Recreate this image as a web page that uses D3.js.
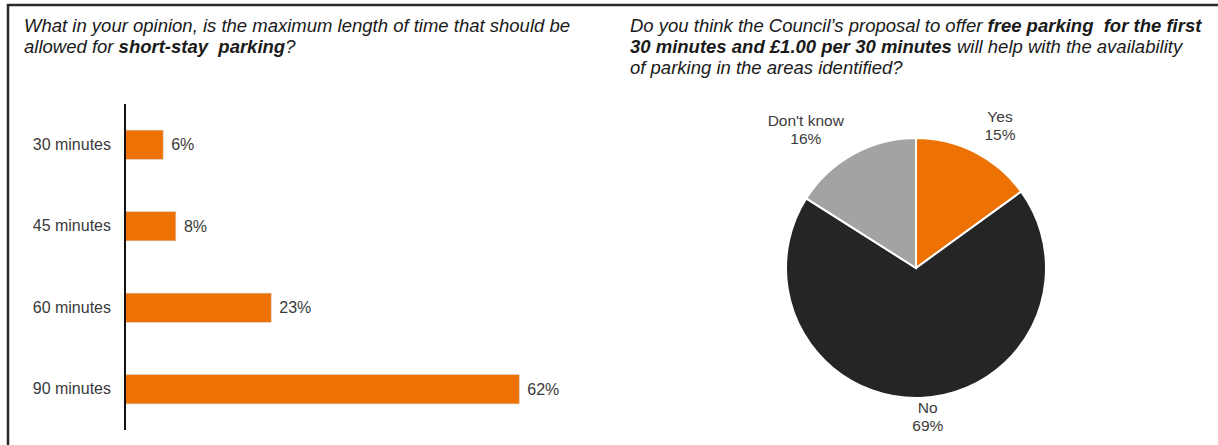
<!DOCTYPE html>
<html>
<head>
<meta charset="utf-8">
<script src="https://cdn.jsdelivr.net/npm/d3@7"></script>
<style>
  html, body { margin: 0; padding: 0; background: #fff; }
  svg { display: block; font-family: "Liberation Sans", Arial, sans-serif; }
</style>
</head>
<body>
<svg id="chart" width="1218" height="445"></svg>
<script>
// Short-stay parking: preferred maximum length of stay
const durations = ["30 minutes", "45 minutes", "60 minutes", "90 minutes"];
const durationShares = [6, 8, 23, 62];

// Free first 30 minutes proposal: responses
const answers = ["Yes", "No", "Don't know"];
const answerShares = [15, 69, 16];
const answerColors = ["#ee7203", "#252525", "#a3a3a3"];

// Question titles, split into runs of normal / bold text per line
const leftTitle = [
  [["What in your opinion, is the maximum length of time that should be", false]],
  [["allowed for ", false], ["short-stay  parking", true], ["?", false]]
];
const rightTitle = [
  [["Do you think the Council\u2019s proposal to offer ", false], ["free parking  for the first", true]],
  [["30 minutes and \u00a31.00 per 30 minutes", true], [" will help with the availability", false]],
  [["of parking in the areas identified?", false]]
];

const svg = d3.select("#chart");

// Panel frame: heavy rule along the top and down the left side
svg.append("line").attr("x1", 7).attr("x2", 1218).attr("y1", 5).attr("y2", 5)
  .attr("stroke", "#2a2a2a").attr("stroke-width", 2.5);
svg.append("line").attr("x1", 8).attr("x2", 8).attr("y1", 4).attr("y2", 445)
  .attr("stroke", "#2a2a2a").attr("stroke-width", 2.5);

function drawTitle(lines, x, y0, lh) {
  const t = svg.append("text").attr("x", x).attr("y", y0)
    .attr("font-size", 18.5).attr("font-style", "italic").attr("fill", "#1a1a1a")
    .attr("xml:space", "preserve");
  lines.forEach((runs, i) => {
    runs.forEach((r, j) => {
      const ts = t.append("tspan").text(r[0])
        .attr("font-weight", r[1] ? "bold" : "normal");
      if (j === 0) ts.attr("x", x).attr("y", y0 + i * lh);
    });
  });
}
drawTitle(leftTitle, 24, 32, 21);
drawTitle(rightTitle, 630, 32, 21);

// ---- Bar chart ----
const x0 = 125;
const xScale = d3.scaleLinear().domain([0, 100]).range([x0, x0 + 636]);
const yScale = d3.scaleBand().domain(durations).range([104, 430]).paddingInner(0.64).paddingOuter(0.32);

const bars = svg.append("g");
bars.selectAll("rect").data(durations).join("rect")
  .attr("x", x0)
  .attr("y", d => yScale(d))
  .attr("width", (d, i) => xScale(durationShares[i]) - x0)
  .attr("height", yScale.bandwidth())
  .attr("fill", "#ee7203")
  .attr("stroke", "#d9d9d9").attr("stroke-width", 0.6);

bars.selectAll("text.val").data(durations).join("text")
  .attr("class", "val")
  .attr("x", (d, i) => xScale(durationShares[i]) + 8)
  .attr("y", d => yScale(d) + yScale.bandwidth() / 2)
  .attr("dy", "0.35em")
  .attr("font-size", 16).attr("fill", "#3a3a3a")
  .text((d, i) => durationShares[i] + "%");

const yAxis = d3.axisLeft(yScale).tickSize(0).tickPadding(14);
const ax = svg.append("g").attr("transform", `translate(${x0},0)`).call(yAxis);
ax.select(".domain").remove();
ax.selectAll("text").attr("font-size", 16).attr("fill", "#3a3a3a")
  .attr("font-family", "Liberation Sans, Arial, sans-serif");
svg.append("line").attr("x1", x0).attr("x2", x0).attr("y1", 104).attr("y2", 430)
  .attr("stroke", "#111").attr("stroke-width", 2);

// ---- Pie chart ----
const cx = 916, cy = 268, r = 130;
const pie = d3.pie().sort(null).value(d => d)(answerShares);
const arc = d3.arc().innerRadius(0).outerRadius(r);
const pg = svg.append("g").attr("transform", `translate(${cx},${cy})`);
pg.selectAll("path").data(pie).join("path")
  .attr("d", arc)
  .attr("fill", (d, i) => answerColors[i])
  .attr("stroke", "#fff").attr("stroke-width", 2);

// Slice labels placed outside the rim
const labelArc = d3.arc().innerRadius(r + 22).outerRadius(r + 22);
const labelOffsets = [[15, -7], [7, -3], [-37, -5]];
pg.selectAll("text.lab").data(pie).join("text")
  .attr("class", "lab")
  .attr("text-anchor", "middle")
  .attr("font-size", 15.5).attr("fill", "#3a3a3a")
  .each(function(d, i) {
    const [px, py] = labelArc.centroid(d);
    const lx = px + labelOffsets[i][0], ly = py + labelOffsets[i][1];
    const t = d3.select(this);
    t.append("tspan").attr("x", lx).attr("y", ly - 4).text(answers[i]);
    t.append("tspan").attr("x", lx).attr("y", ly + 14).text(answerShares[i] + "%");
  });
</script>
</body>
</html>
